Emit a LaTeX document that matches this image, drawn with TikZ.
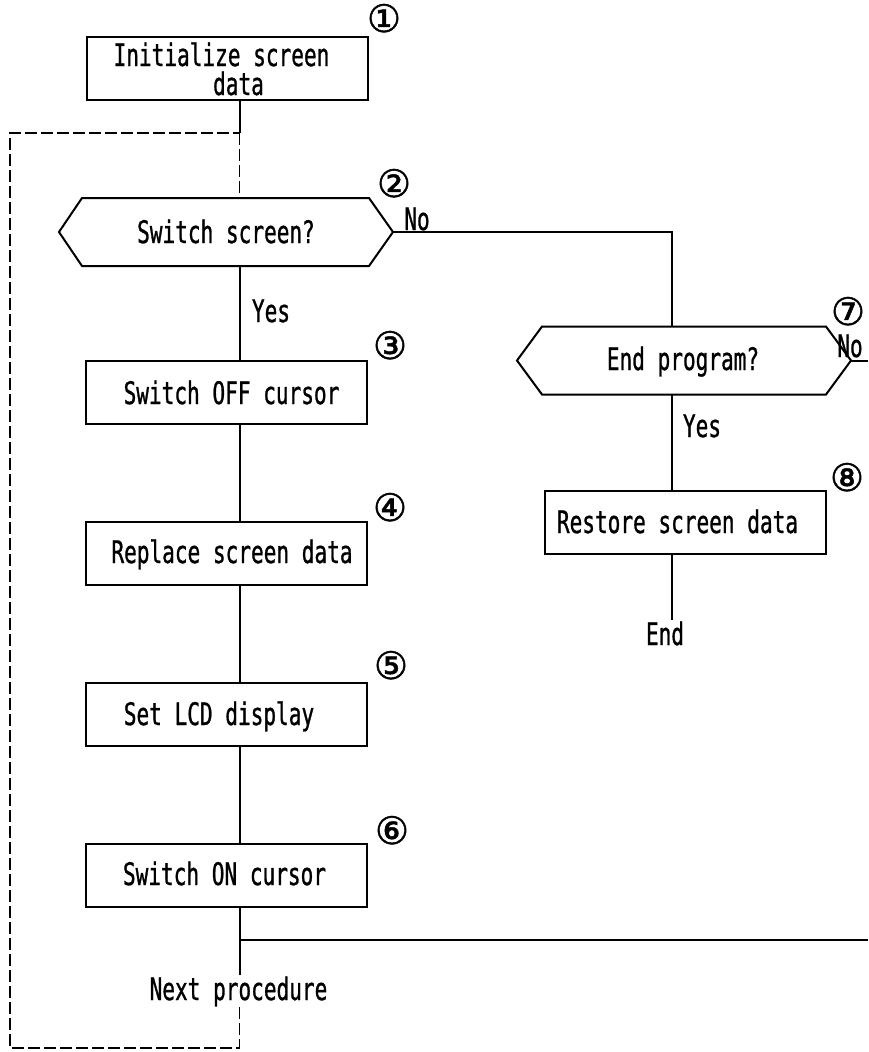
\documentclass[tikz,border=0pt]{standalone}
\usepackage{fontspec}
\newfontfamily\flowfont[FakeStretch=0.68,FakeBold=0.9]{DejaVu Sans Mono}
\newfontfamily\markfont[FakeBold=1.2]{DejaVu Sans}
\usetikzlibrary{calc}
\begin{document}
\begin{tikzpicture}[x=1pt,y=-1pt,line width=2pt,
  box/.style={draw,rectangle,line width=2pt,inner sep=0pt,minimum width=281pt,minimum height=63pt},
  hexbody/.style={rectangle,inner sep=0pt,minimum width=332pt,minimum height=66pt},
  hexline/.style={line width=2pt,line join=miter},
  lbl/.style={font={\flowfont\fontsize{31}{29}\selectfont},inner sep=0pt,anchor=base},
  num/.style={font={\markfont\fontsize{38}{38}\selectfont},inner sep=0pt,text height=25pt,text depth=1pt},
  backline/.style={line width=1.7pt,dash pattern=on 12pt off 4pt}]
\useasboundingbox[fill=white] (0,0) rectangle (868,1052);

% spines of the two columns
\coordinate (sx) at (239.5,0);
\coordinate (rx) at (672,0);

% step 1
\node[box] (b1) at (227,68.5) {};
\node[lbl] (t1a) at (221.5,66) {Initialize screen};
\node[lbl] (t1b) at (238.5,95) {data};
\node[num] (n1) at (384,20) {①};

% step 2: decision
\node[hexbody] (h2) at (226,232) {};
\draw[hexline] (h2.west) -- ([xshift=23pt]h2.north west) -- ([xshift=-24pt]h2.north east)
  -- (h2.east) -- ([xshift=-24pt]h2.south east) -- ([xshift=23pt]h2.south west) -- cycle;
\node[lbl] (t2) at (226,243) {Switch screen?};
\node[num] (n2) at (394,185) {②};
\node[lbl] (no2) at (417,230) {No};
\node[lbl] (yes2) at (271,322) {Yes};

% steps 3 to 6
\node[box] (b3) at (226.5,392) {};
\node[lbl] (t3) at (231.5,404) {Switch OFF cursor};
\node[num] (n3) at (390,347) {③};

\node[box] (b4) at (226.5,553) {};
\node[lbl] (t4) at (232,563) {Replace screen data};
\node[num] (n4) at (390,509) {④};

\node[box] (b5) at (226.5,714) {};
\node[lbl] (t5) at (219,725) {Set LCD display};
\node[num] (n5) at (391,667) {⑤};

\node[box] (b6) at (226.5,875) {};
\node[lbl] (t6) at (224.5,885) {Switch ON cursor};
\node[num] (n6) at (392,832) {⑥};

\node[lbl] (tnext) at (238.5,1000) {Next procedure};

% step 7: decision
\node[hexbody] (h7) at (684,360.5) {};
\draw[hexline] (h7.west) -- ([xshift=25pt]h7.north west) -- ([xshift=-25pt]h7.north east)
  -- (h7.east) -- ([xshift=-25pt]h7.south east) -- ([xshift=25pt]h7.south west) -- cycle;
\node[lbl] (t7) at (683,370) {End program?};
\node[num] (n7) at (848,313) {⑦};
\node[lbl] (no7) at (850,357) {No};
\node[lbl] (yes7) at (702,437) {Yes};

% step 8
\node[box] (b8) at (685,522.5) {};
\node[lbl] (t8) at (677.5,533) {Restore screen data};
\node[num] (n8) at (847,479) {⑧};
\node[lbl] (tend) at (665,645) {End};

% junctions and free ends
\coordinate (jtop) at (239.5,133);
\coordinate (jtl) at (10,133);
\coordinate (jbl) at (10,1048);
\coordinate (jbot) at (239.5,1048);
\coordinate (j6) at (239.5,940);
\coordinate (jr) at (868,940);

% main column
\draw (b1.south -| sx) -- (jtop);
\draw[backline] (jtop) -- (h2.north -| sx);
\draw (h2.south -| sx) -- (b3.north -| sx);
\draw (b3.south -| sx) -- (b4.north -| sx);
\draw (b4.south -| sx) -- (b5.north -| sx);
\draw (b5.south -| sx) -- (b6.north -| sx);
\draw (b6.south -| sx) -- (tnext.north -| sx);
\draw (j6) -- (jr);
\draw[backline] (tnext.south -| sx) -- (jbot) -- (jbl) -- (jtl) -- (jtop);

% right column
\draw (h2.east) -- (h2.east -| rx) -- (h7.north -| rx);
\draw (h7.south -| rx) -- (b8.north -| rx);
\draw (b8.south -| rx) -- (tend.north -| rx);
\draw (h7.east) -- (h7.east -| jr);
\end{tikzpicture}
\end{document}
